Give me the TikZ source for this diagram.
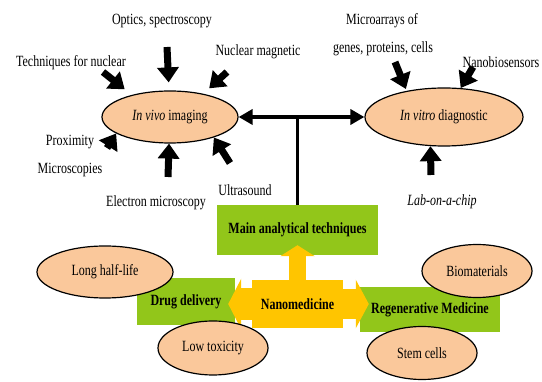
\documentclass[tikz,border=0pt]{standalone}
\usepackage{fontspec}
\setmainfont{Liberation Serif}
\usetikzlibrary{shapes.geometric,arrows.meta}
\definecolor{peach}{RGB}{250,200,155}
\definecolor{leaf}{RGB}{146,198,26}
\definecolor{gold}{RGB}{255,197,0}
\newcommand{\tallt}[1]{\scalebox{1}[1.3]{#1}}

\begin{document}
\begin{tikzpicture}[x=1pt, y=-1pt, font=\fontsize{12}{14}\selectfont,
  oval/.style={ellipse, draw, line width=1.2pt, fill=peach, inner sep=0pt},
  gbox/.style={fill=leaf, inner sep=0pt, font=\fontsize{12}{14}\selectfont\bfseries},
  blk/.style={line width=7pt, -{Triangle[length=15pt,width=21pt]}},
  link/.style={line width=3.5pt},
  yarr/.style={gold, line cap=butt}]
  \useasboundingbox (0,0) rectangle (542,382);

  % green boxes and the yellow hub
  \node[gbox, minimum width=161pt, minimum height=50pt] (main) at (297.5,230) {\tallt{Main analytical techniques}};
  \node[gbox, minimum width=98pt, minimum height=47pt] (drug) at (186,301.5) {\tallt{Drug delivery}};
  \node[gbox, minimum width=140pt, minimum height=45pt] (regen) at (430,309.5) {\tallt{Regenerative Medicine}};
  \node[fill=gold, inner sep=0pt, minimum width=91pt, minimum height=48pt,
        font=\fontsize{12}{14}\selectfont\bfseries] (nano) at (297.5,304) {\tallt{Nanomedicine}};

  \draw[yarr, line width=17pt, -{Triangle[length=11pt,width=34pt]}, shorten >=-10pt] (nano.north) -- (main.south);
  \draw[yarr, line width=32pt, -{Triangle[length=13pt,width=50pt]}, shorten >=-7pt] (nano.west) -- (nano.west -| drug.east);
  \draw[yarr, line width=30pt, -{Triangle[length=13pt,width=48pt]}, shorten >=-9pt] (nano.east) -- (nano.east -| regen.west);

  % ellipses
  \node[oval, minimum width=136pt, minimum height=52pt] (vivo) at (170,117) {\tallt{\textit{In vivo} imaging}};
  \node[oval, minimum width=158pt, minimum height=58pt] (vitro) at (444,117) {\tallt{\textit{In vitro} diagnostic}};
  \node[oval, minimum width=136pt, minimum height=52pt] (halflife) at (105,272) {\tallt{Long half-life}};
  \node[oval, minimum width=110pt, minimum height=54pt] (toxic) at (213,348) {\tallt{Low toxicity}};
  \node[oval, minimum width=110pt, minimum height=53pt] (biomat) at (477,271) {\tallt{Biomaterials}};
  \node[oval, minimum width=110pt, minimum height=53pt] (stem) at (422,353) {\tallt{Stem cells}};

  % labels
  \node (optics) at (162,21) {\tallt{Optics, spectroscopy}};
  \node (nuctech) at (71,63) {\tallt{Techniques for nuclear}};
  \node (nmr) at (258,52) {\tallt{Nuclear magnetic}};
  \node (prox) at (70,142) {\tallt{Proximity}};
  \node (micro) at (70,170) {\tallt{Microscopies}};
  \node (electron) at (156,203) {\tallt{Electron microscopy}};
  \node (ultra) at (245,190) {\tallt{Ultrasound}};
  \node (arrays) at (382,21) {\tallt{Microarrays of}};
  \node (genes) at (383,49) {\tallt{genes, proteins, cells}};
  \node (biosens) at (501,62) {\tallt{Nanobiosensors}};
  \node (labchip) at (442,202) {\tallt{\textit{Lab-on-a-chip}}};

  \coordinate (optics-t) at (167,47);
  \coordinate (nuctech-t) at (103,72);
  \coordinate (nmr-t) at (227,72);
  \coordinate (prox-t) at (107,148);
  \coordinate (electron-t) at (168,177);
  \coordinate (ultra-t) at (230,163);
  \coordinate (genes-t) at (395,62);
  \coordinate (biosens-t) at (473,67);
  \coordinate (labchip-t) at (431,175);

  % fat arrows
  \draw[blk, shorten >=8pt] (optics-t) -- (vivo.92);
  \draw[blk, shorten >=9pt] (nuctech-t) -- (vivo.150);
  \draw[blk, shorten >=8pt] (nmr-t) -- (vivo.35);
  \draw[blk] (prox-t) -- (vivo.197);
  \draw[blk] (electron-t) -- (vivo.268);
  \draw[blk] (ultra-t) -- (vivo.335);
  \draw[blk, shorten >=2pt] (genes-t) -- (vitro.145);
  \draw[blk] (biosens-t) -- (vitro.60);
  \draw[blk] (labchip-t) -- (vitro.245);

  % links
  \draw[link, {Triangle[length=14pt,width=15pt]}-{Triangle[length=14pt,width=15pt]}] (vivo.east) -- (vitro.west);
  \draw[link] (main.north) -- (main.north |- vivo.east);
\end{tikzpicture}
\end{document}
